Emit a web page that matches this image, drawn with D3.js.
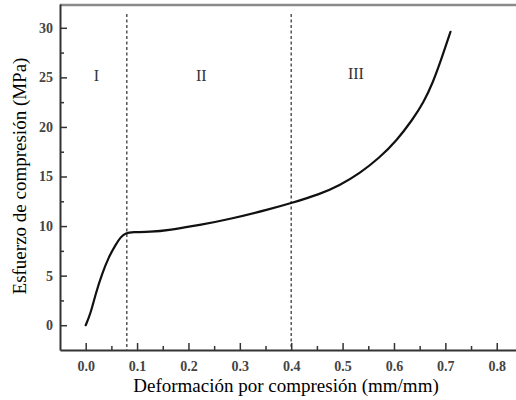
<!DOCTYPE html>
<html>
<head>
<meta charset="utf-8">
<script src="https://cdn.jsdelivr.net/npm/d3@7"></script>
<style>
  html, body { margin: 0; padding: 0; background: #fff; }
  svg { display: block; }
</style>
</head>
<body>
<svg id="chart" width="516" height="400"></svg>
<script>
// ---- data ----
const strain = [0.000, 0.0097, 0.0195, 0.032, 0.045, 0.058, 0.068, 0.078, 0.091, 0.125, 0.163, 0.222, 0.280, 0.358, 0.399, 0.455, 0.494, 0.533, 0.572, 0.605, 0.637, 0.657, 0.676, 0.692, 0.710];
const stress = [0.0, 1.2, 3.2, 5.2, 6.9, 8.1, 8.9, 9.3, 9.4, 9.4, 9.6, 10.1, 10.7, 11.7, 12.3, 13.2, 14.1, 15.3, 16.9, 18.6, 20.8, 22.4, 24.5, 26.8, 29.6];
const regionBounds = [0.08, 0.4];
const regionNames = ["I", "II", "III"];
const regionX = [0.021, 0.225, 0.526];
const regionY = [25.2, 25.2, 25.4];
const xTicks = [0.0, 0.1, 0.2, 0.3, 0.4, 0.5, 0.6, 0.7, 0.8];
const xMinor = [0.05, 0.15, 0.25, 0.35, 0.45, 0.55, 0.65, 0.75];
const yTicks = [0, 5, 10, 15, 20, 25, 30];
const yMinor = [2.5, 7.5, 12.5, 17.5, 22.5, 27.5];
const xTitle = "Deformación por compresión (mm/mm)";
const yTitle = "Esfuerzo de compresión (MPa)";

// ---- chart ----
const svg = d3.select("#chart");
const L = 60, R = 516, T = 4, B = 350;
const x = d3.scaleLinear().domain([-0.05, 0.8375]).range([L, R]);
const y = d3.scaleLinear().domain([-2.5, 32.4]).range([B, T]);
const serif = "'Liberation Serif', 'Times New Roman', serif";

// top border
svg.append("line").attr("x1", L).attr("x2", R).attr("y1", T + 1).attr("y2", T + 1)
  .attr("stroke", "#8a8a8a").attr("stroke-width", 2.5);

// dashed region lines
svg.selectAll("line.div").data(regionBounds).enter().append("line")
  .attr("class", "div")
  .attr("x1", d => x(d)).attr("x2", d => x(d))
  .attr("y1", 14).attr("y2", B)
  .attr("stroke", "#555").attr("stroke-width", 1.5)
  .attr("stroke-dasharray", "3,2.5");

// minor ticks
const xMinorAxis = d3.axisBottom(x).tickValues(xMinor).tickSizeInner(-4).tickSizeOuter(0).tickFormat("");
const yMinorAxis = d3.axisLeft(y).tickValues(yMinor).tickSizeInner(-4).tickSizeOuter(0).tickFormat("");
svg.append("g").attr("transform", `translate(0,${B})`).call(xMinorAxis)
  .call(g => g.select(".domain").remove())
  .call(g => g.selectAll("line").attr("stroke", "#333").attr("stroke-width", 1.5));
svg.append("g").attr("transform", `translate(${L},0)`).call(yMinorAxis)
  .call(g => g.select(".domain").remove())
  .call(g => g.selectAll("line").attr("stroke", "#333").attr("stroke-width", 1.5));

// major axes
const xAxis = d3.axisBottom(x).tickValues(xTicks).tickSizeInner(-7).tickSizeOuter(0)
  .tickPadding(11).tickFormat(d3.format(".1f"));
const yAxis = d3.axisLeft(y).tickValues(yTicks).tickSizeInner(-7).tickSizeOuter(0)
  .tickPadding(7).tickFormat(d3.format("d"));

svg.append("g").attr("transform", `translate(0,${B})`).call(xAxis)
  .call(g => g.select(".domain").attr("stroke", "#333").attr("stroke-width", 2))
  .call(g => g.selectAll(".tick line").attr("stroke", "#333").attr("stroke-width", 1.5))
  .call(g => g.selectAll("text").attr("font-family", serif).attr("font-size", 14)
    .attr("fill", "#444").attr("font-weight", "bold"));
svg.append("g").attr("transform", `translate(${L},0)`).call(yAxis)
  .call(g => g.select(".domain").attr("stroke", "#333").attr("stroke-width", 2))
  .call(g => g.selectAll(".tick line").attr("stroke", "#333").attr("stroke-width", 1.5))
  .call(g => g.selectAll("text").attr("font-family", serif).attr("font-size", 14)
    .attr("fill", "#444").attr("font-weight", "bold"));

// curve
const pts = strain.map((s, i) => [s, stress[i]]);
const line = d3.line().x(d => x(d[0])).y(d => y(d[1])).curve(d3.curveBasis);
svg.append("path").datum(pts).attr("d", line)
  .attr("fill", "none").attr("stroke", "#111").attr("stroke-width", 2.2)
  .attr("stroke-linecap", "round").attr("stroke-linejoin", "round");

// region labels
svg.selectAll("text.region").data(regionNames).enter().append("text")
  .attr("class", "region")
  .attr("x", (d, i) => x(regionX[i])).attr("y", (d, i) => y(regionY[i]))
  .attr("text-anchor", "middle").attr("dy", "0.35em")
  .attr("font-family", serif).attr("font-size", 16).attr("fill", "#333")
  .text(d => d);

// axis titles
svg.append("text").attr("x", 286).attr("y", 392).attr("text-anchor", "middle")
  .attr("font-family", serif).attr("font-size", 19).attr("fill", "#000")
  .text(xTitle);
svg.append("text").attr("transform", "translate(26,176) rotate(-90)")
  .attr("text-anchor", "middle")
  .attr("font-family", serif).attr("font-size", 19).attr("fill", "#000")
  .text(yTitle);
</script>
</body>
</html>
